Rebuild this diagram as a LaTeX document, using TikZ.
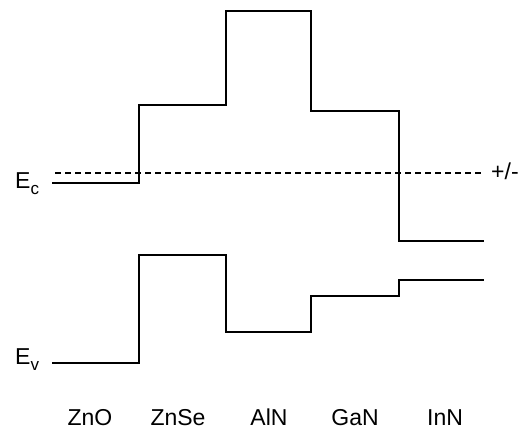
\documentclass[tikz,border=0pt]{standalone}
\usepackage{fontspec}
\setmainfont{Liberation Sans}
\begin{document}
\begin{tikzpicture}[x=1pt,y=-1pt,
  band/.style={line width=2.8pt, line join=miter},
  fermi/.style={line width=1.8pt, dash pattern=on 6pt off 4pt},
  lbl/.style={inner sep=0pt, text depth=0pt, font=\fontsize{23}{25}\selectfont, anchor=base},
  elbl/.style={inner sep=0pt, font=\fontsize{23}{25}\selectfont, anchor=base west}]
\useasboundingbox (0,0) rectangle (519,430);
% conduction band
\coordinate (c0) at (52,183);
\coordinate (c1) at (484,241);
\draw[band] (c0) -- (139,183) -- (139,105) -- (226,105) -- (226,11) -- (311,11)
  -- (311,111) -- (399,111) -- (399,241) -- (c1);
% valence band
\coordinate (v0) at (52,363);
\coordinate (v1) at (484,280);
\draw[band] (v0) -- (139,363) -- (139,255) -- (226,255) -- (226,332) -- (311,332)
  -- (311,296) -- (399,296) -- (399,280) -- (v1);
% Fermi level
\node[elbl] (pm) at (491,180) {+/-};
\coordinate (f0) at (55,173);
\coordinate (f1) at (481,173);
\draw[fermi] (f0) -- (f1);
% energy labels
\node[elbl] (ec) at (15,189) {E\raisebox{-6pt}{\fontsize{17}{17}\selectfont c}};
\node[elbl] (ev) at (15,364) {E\raisebox{-6pt}{\fontsize{17}{17}\selectfont v}};
% material labels
\node[lbl] (zno) at (90,425) {ZnO};
\node[lbl] (znse) at (178,425) {ZnSe};
\node[lbl] (aln) at (269,425) {AlN};
\node[lbl] (gan) at (355,425) {GaN};
\node[lbl] (inn) at (445,425) {InN};
\end{tikzpicture}
\end{document}
